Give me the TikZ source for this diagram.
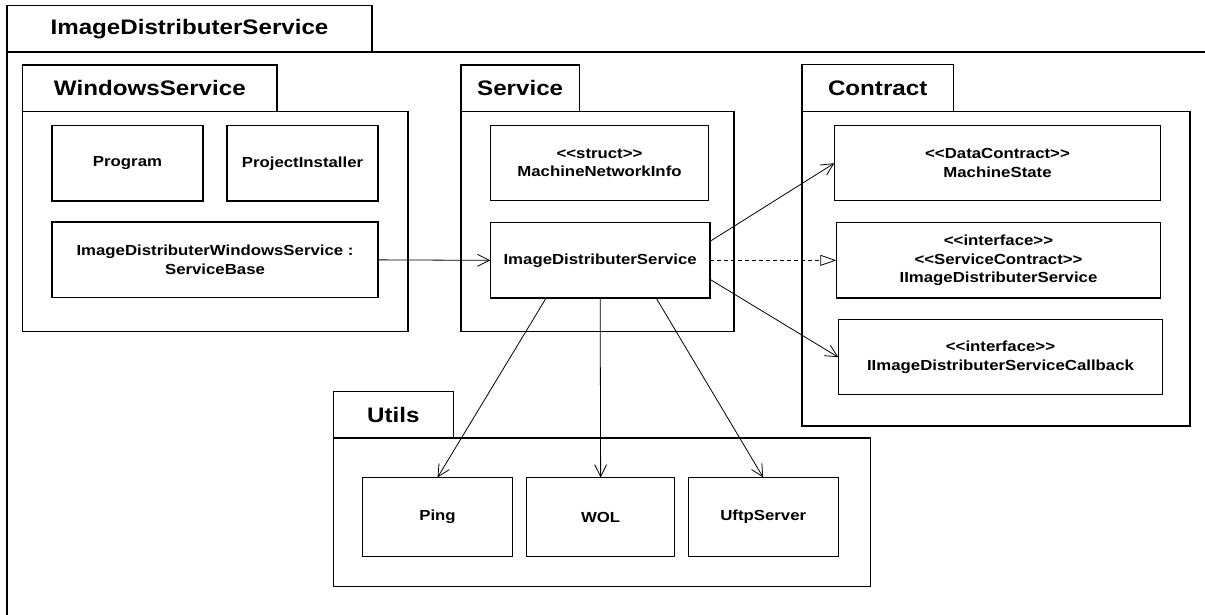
\documentclass[tikz,border=0pt]{standalone}
\usepackage{fontspec}
\setmainfont[FakeStretch=1.15,Ligatures=TeXOff]{Liberation Sans}
\usetikzlibrary{arrows.meta,calc}
\begin{document}
\begin{tikzpicture}[x=1pt,y=-1pt,
  pkgtab/.style={draw,line width=1.2pt,inner sep=0pt,outer sep=0pt,
    font=\bfseries\fontsize{21}{25}\selectfont},
  pkgbody/.style={draw,line width=1.2pt,inner sep=0pt,outer sep=0pt},
  pkgline/.style={line width=1.2pt},
  cls/.style={draw,fill=white,line width=1.2pt,inner sep=0pt,outer sep=0pt,align=center,
    font=\bfseries\fontsize{14.6}{18.6}\selectfont},
  dep/.style={line width=0.8pt,-{Straight Barb[length=12pt,width=12pt,line width=0.8pt]}},
  real/.style={line width=0.8pt,dash pattern=on 4pt off 3pt,-{Triangle[open,length=16pt,width=11pt,line width=0.8pt]}}
]
\useasboundingbox (0,0) rectangle (1205,614);
% outer package
\node[pkgtab,minimum width=365pt,minimum height=46.3pt] (otab) at (189.5,28.85) {ImageDistributerService};
\coordinate (obl) at (7,620);
\coordinate (otr) at (1210,52.0);
\draw[pkgline] (obl) -- (otab.south west) -- (otr);

% WindowsService
\node[pkgbody,minimum width=385.3pt,minimum height=220pt] (wsbody) at (215.35,221.7) {};
\node[pkgtab,minimum width=254.3pt,minimum height=46.7pt] (wstab) at (149.85,88.35) {WindowsService};
\node[cls,minimum width=151pt,minimum height=75.3pt] (prog) at (127.5,163.35) {Program};
\node[cls,minimum width=151pt,minimum height=75.3pt] (pinst) at (302.5,163.35) {ProjectInstaller};
\node[cls,minimum width=326pt,minimum height=75.7pt] (idws) at (215,259.85) {ImageDistributerWindowsService :\\ServiceBase};

% Service
\node[pkgbody,minimum width=273pt,minimum height=220pt] (svbody) at (597.5,221.7) {};
\node[pkgtab,minimum width=118.3pt,minimum height=46.7pt] (svtab) at (520.15,88.35) {Service};
\node[cls,minimum width=218.4pt,minimum height=75.4pt] (mni) at (599.5,163) {<<struct>>\\MachineNetworkInfo};
\node[cls,minimum width=219.7pt,minimum height=75.3pt] (ids) at (600.15,260.35) {ImageDistributerService};

% Contract
\node[pkgbody,minimum width=388pt,minimum height=314.3pt] (ctbody) at (996,268.85) {};
\node[pkgtab,minimum width=151.3pt,minimum height=47pt] (cttab) at (877.65,88.2) {Contract};
\node[cls,minimum width=326.4pt,minimum height=75pt] (ms) at (997.5,163.2) {<<DataContract>>\\MachineState};
\node[cls,minimum width=324.4pt,minimum height=75.3pt] (iids) at (998.5,260.35) {<<interface>>\\<<ServiceContract>>\\IImageDistributerService};
\node[cls,minimum width=324.4pt,minimum height=75pt] (cb) at (1000.5,357.2) {<<interface>>\\IImageDistributerServiceCallback};

% Utils
\node[pkgbody,minimum width=537pt,minimum height=148.7pt] (utbody) at (601.8,512.35) {};
\node[pkgtab,minimum width=120pt,minimum height=46.7pt] (uttab) at (393.3,414.65) {Utils};
\node[cls,minimum width=149.6pt,minimum height=79.3pt] (ping) at (437.5,517.15) {Ping};
\node[cls,minimum width=148pt,minimum height=79.3pt] (wol) at (600.65,517.15) {WOL};
\node[cls,minimum width=150pt,minimum height=79.3pt] (uftp) at (763.25,517.15) {UftpServer};

% connectors
\draw[dep] (idws.east) -- (ids.west);
\draw[dep] ($(ids.east)+(0,-19)$) -- (ms.west);
\draw[real] (ids.east) -- (iids.west);
\draw[dep] ($(ids.east)+(0,19)$) -- (cb.west);
\draw[dep] ($(ids.south)+(-54,0)$) -- (ping.north);
\draw[dep] (ids.south) -- (wol.north);
\draw[dep] ($(ids.south)+(56,0)$) -- (uftp.north);
\end{tikzpicture}
\end{document}
